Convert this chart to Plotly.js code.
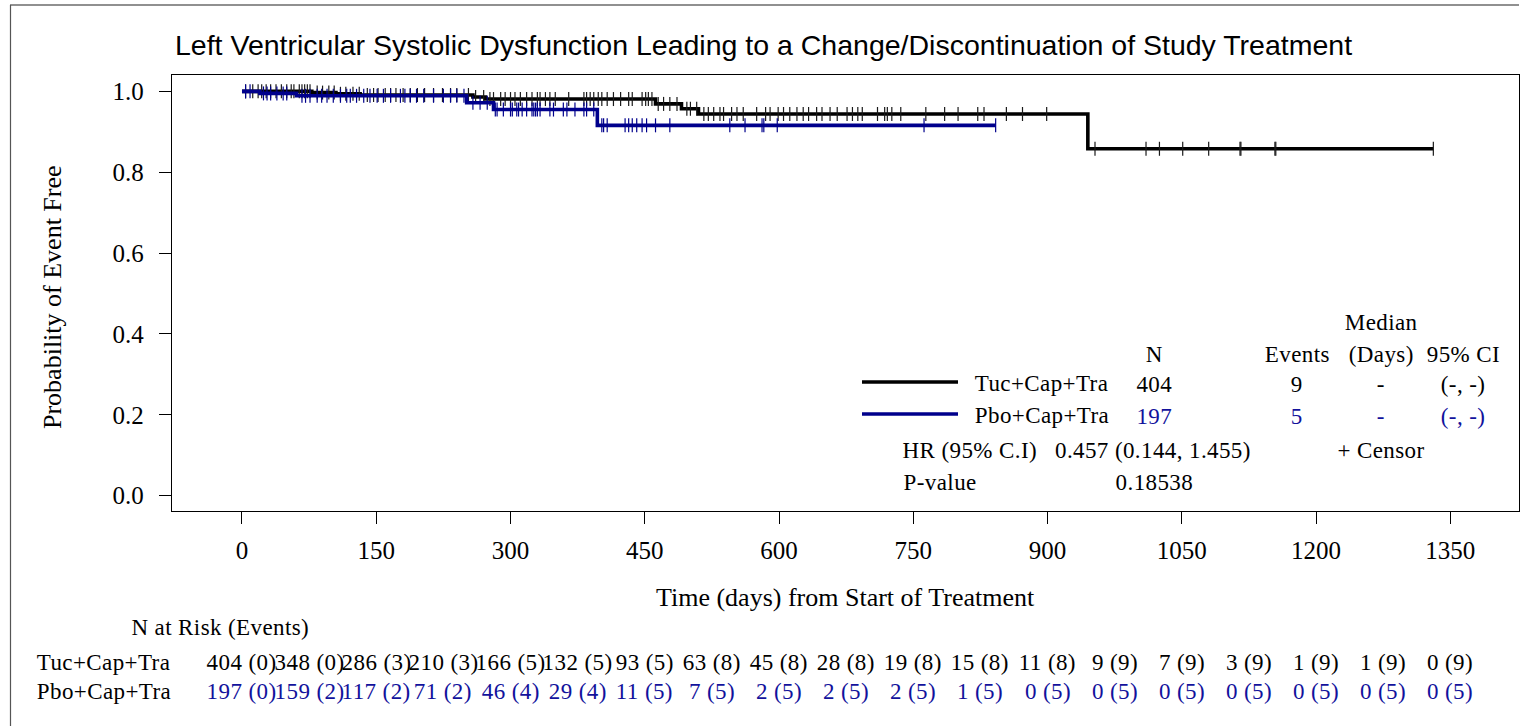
<!DOCTYPE html>
<html>
<head>
<meta charset="utf-8">
<script src="https://cdn.plot.ly/plotly-3.0.1.min.js"></script>
<style>
html,body{margin:0;padding:0;background:#fff;}
#chart{width:1528px;height:726px;}
</style>
</head>
<body>
<div id="chart"></div>
<script>
// ---------------- DATA ----------------
var chartTitle = 'Left Ventricular Systolic Dysfunction Leading to a Change/Discontinuation of Study Treatment';
var groupNames = ['Tuc+Cap+Tra', 'Pbo+Cap+Tra'];

// Kaplan-Meier step points (day, survival)
var tucStepDays = [0, 78, 105, 132, 258, 272, 462, 491, 510, 945, 1331];
var tucStepSurv = [1.0, 0.997, 0.994, 0.991, 0.986, 0.981, 0.969, 0.957, 0.944, 0.858, 0.858];
var pboStepDays = [0, 20, 61, 251, 281, 397, 842];
var pboStepSurv = [1.0, 0.995, 0.989, 0.972, 0.955, 0.916, 0.916];

// censor times (days)
var tucCensorDays = [4, 12, 18, 22, 27, 32, 38, 44, 50, 55, 58, 64, 67, 70, 73, 76, 84, 90, 97, 103, 110, 116, 124, 131,
  140, 147, 152, 160, 166, 172, 180, 188, 196, 204, 214, 224, 233, 240, 253, 261, 270, 277, 281, 289, 294, 300, 305,
  311, 318, 324, 330, 333, 339, 344, 350, 365, 382, 385, 389, 393, 398, 402, 408, 415, 423, 432, 436, 447, 451, 454,
  458, 465, 471, 478, 486, 497, 501, 508, 516, 521, 527, 534, 538, 547, 553, 560, 575, 585, 590, 599, 605, 612, 620,
  627, 633, 642, 648, 657, 665, 676, 682, 688, 693, 710, 718, 721, 726, 736, 764, 785, 800, 822, 829, 854, 872, 899,
  953, 1010, 1025, 1051, 1080, 1115, 1116, 1154, 1155, 1331];
var pboCensorDays = [4, 9, 24, 28, 32, 39, 46, 50, 67, 71, 76, 84, 89, 95, 102, 110, 117, 121, 128, 136, 143, 151, 158,
  166, 177, 182, 188, 195, 203, 214, 225, 233, 240, 248, 258, 266, 274, 283, 285, 292, 300, 302, 307, 309, 313, 318,
  324, 326, 328, 330, 333, 344, 348, 359, 363, 372, 382, 385, 393, 402, 404, 408, 428, 432, 436, 441, 447, 452, 462,
  478, 545, 562, 581, 583, 598, 762, 842];

// axis ticks
var xTicks = [0, 150, 300, 450, 600, 750, 900, 1050, 1200, 1350];
var yTicks = [0.0, 0.2, 0.4, 0.6, 0.8, 1.0];

// numbers at risk table
var riskDays = [0, 75, 150, 225, 300, 375, 450, 525, 600, 675, 750, 825, 900, 975, 1050, 1125, 1200, 1275, 1350];
var tucRisk = ['404 (0)', '348 (0)', '286 (3)', '210 (3)', '166 (5)', '132 (5)', '93 (5)', '63 (8)', '45 (8)', '28 (8)',
  '19 (8)', '15 (8)', '11 (8)', '9 (9)', '7 (9)', '3 (9)', '1 (9)', '1 (9)', '0 (9)'];
var pboRisk = ['197 (0)', '159 (2)', '117 (2)', '71 (2)', '46 (4)', '29 (4)', '11 (5)', '7 (5)', '2 (5)', '2 (5)',
  '2 (5)', '1 (5)', '0 (5)', '0 (5)', '0 (5)', '0 (5)', '0 (5)', '0 (5)', '0 (5)'];

// summary statistics
var statHeaders = ['N', 'Events', '(Days)', '95% CI'];
var tucStats = ['404', '9', '-', '(-, -)'];
var pboStats = ['197', '5', '-', '(-, -)'];
var hrLabel = 'HR (95% C.I)';
var hrText = '0.457 (0.144, 1.455)';
var pLabel = 'P-value';
var pText = '0.18538';

// ---------------- STYLE / LAYOUT ----------------
var W = 1528, H = 726;
var M = {l: 172, r: 9, t: 75, b: 215};
var PW = W - M.l - M.r, PH = H - M.t - M.b;
function px(x) { return (x - M.l) / PW; }
function py(y) { return (H - M.b - y) / PH; }

var BLACK = '#000000';
var NAVY = '#00008C';
var BLUE_TXT = '#12129C';
var SERIF = 'Liberation Serif, Times New Roman, serif';
var SANS = 'Liberation Sans, Arial, sans-serif';
var TS = 23; // table text size

function survAt(days, surv, t) {
  var s = surv[0];
  for (var i = 0; i < days.length; i++) { if (days[i] <= t) s = surv[i]; }
  return s;
}

var traces = [
  {x: tucStepDays, y: tucStepSurv, mode: 'lines', line: {shape: 'hv', color: BLACK, width: 3.6}, hoverinfo: 'skip', showlegend: false},
  {x: tucCensorDays, y: tucCensorDays.map(function(t){return survAt(tucStepDays, tucStepSurv, t);}), mode: 'markers',
   marker: {symbol: 'line-ns-open', size: 10, color: '#1a1a1a', line: {color: '#1a1a1a', width: 1.2}}, hoverinfo: 'skip', showlegend: false},
  {x: pboStepDays, y: pboStepSurv, mode: 'lines', line: {shape: 'hv', color: NAVY, width: 3.6}, hoverinfo: 'skip', showlegend: false},
  {x: pboCensorDays, y: pboCensorDays.map(function(t){return survAt(pboStepDays, pboStepSurv, t);}), mode: 'markers',
   marker: {symbol: 'line-ns-open', size: 10, color: NAVY, line: {color: NAVY, width: 1.2}}, hoverinfo: 'skip', showlegend: false}
];

var ann = [];
function txt(x, y, s, opt) {
  opt = opt || {};
  ann.push({xref: opt.xref || 'paper', yref: 'paper', x: x, y: y, text: s, showarrow: false,
    xanchor: opt.xanchor || 'center', yanchor: 'middle',
    font: {family: opt.family || SERIF, size: opt.size || TS, color: opt.color || BLACK}});
}

// title & axis titles
txt(px(763), py(45), chartTitle, {family: SANS, size: 28.5});
txt(px(845), py(597), 'Time (days) from Start of Treatment', {size: 26});
ann.push({xref: 'paper', yref: 'paper', x: px(52), y: py(297), text: 'Probability of Event Free', showarrow: false,
  textangle: -90, xanchor: 'center', yanchor: 'middle', font: {family: SERIF, size: 26, color: BLACK}});

// summary block
txt(px(1381), py(322), 'Median');
var colX = [1154, 1297, 1381, 1463];
for (var i = 0; i < statHeaders.length; i++) {
  txt(px(colX[i]), py(354), statHeaders[i]);
  txt(px(colX[i]), py(384), tucStats[i]);
  txt(px(colX[i]), py(416), pboStats[i], {color: BLUE_TXT});
}
txt(px(975), py(383), groupNames[0], {xanchor: 'left'});
txt(px(975), py(415), groupNames[1], {xanchor: 'left'});
txt(px(903), py(450), hrLabel, {xanchor: 'left'});
txt(px(1057), py(450), hrText, {xanchor: 'left'});
txt(px(1381), py(450), '+ Censor');
txt(px(903), py(482), pLabel, {xanchor: 'left'});
txt(px(1154), py(482), pText);

// risk table
txt(px(133), py(627), 'N at Risk (Events)', {xanchor: 'left'});
txt(px(37), py(662), groupNames[0], {xanchor: 'left'});
txt(px(37), py(691), groupNames[1], {xanchor: 'left'});
for (var j = 0; j < riskDays.length; j++) {
  txt(riskDays[j], py(662), tucRisk[j], {xref: 'x'});
  txt(riskDays[j], py(691), pboRisk[j], {xref: 'x', color: BLUE_TXT});
}

var shapes = [
  // legend lines
  {type: 'line', xref: 'paper', yref: 'paper', x0: px(862), x1: px(958), y0: py(382), y1: py(382), line: {color: BLACK, width: 3.6}},
  {type: 'line', xref: 'paper', yref: 'paper', x0: px(862), x1: px(958), y0: py(414), y1: py(414), line: {color: NAVY, width: 3.6}},
  // outer frame (top and left)
  {type: 'line', xref: 'paper', yref: 'paper', x0: px(10), x1: px(1519), y0: py(5), y1: py(5), line: {color: '#222', width: 1.2}},
  {type: 'line', xref: 'paper', yref: 'paper', x0: px(10.5), x1: px(10.5), y0: py(5), y1: py(730), line: {color: '#555', width: 1.2}}
];

var layout = {
  width: W, height: H, margin: M,
  paper_bgcolor: '#fff', plot_bgcolor: '#fff',
  showlegend: false,
  xaxis: {range: [-78.2, 1426.7], tickvals: xTicks, ticktext: xTicks.map(String), ticks: 'outside', ticklen: 12, tickwidth: 1,
    tickcolor: BLACK, showline: true, mirror: true, linecolor: BLACK, linewidth: 1.3, showgrid: false, zeroline: false,
    tickfont: {family: SERIF, size: 25, color: BLACK}, ticklabelstandoff: 5},
  yaxis: {range: [-0.038, 1.0405], tickvals: yTicks, ticktext: yTicks.map(function(v){return v.toFixed(1);}), ticks: 'outside',
    ticklen: 12, tickwidth: 1, tickcolor: BLACK, showline: true, mirror: true, linecolor: BLACK, linewidth: 1.3,
    showgrid: false, zeroline: false, tickfont: {family: SERIF, size: 25, color: BLACK}, ticklabelstandoff: 10},
  annotations: ann,
  shapes: shapes
};

Plotly.newPlot('chart', traces, layout, {displayModeBar: false, staticPlot: true}).then(function(gd){
  // slight letter spacing on serif table/legend texts, like the original SAS output
  var nodes = gd.querySelectorAll('.annotation-text');
  nodes.forEach(function(n){
    var fam = n.style.fontFamily || '';
    if (fam.indexOf('Serif') >= 0 && n.textContent.length < 30 && n.textContent !== 'Probability of Event Free') {
      n.style.letterSpacing = '0.4px';
    }
  });
});
</script>
</body>
</html>
